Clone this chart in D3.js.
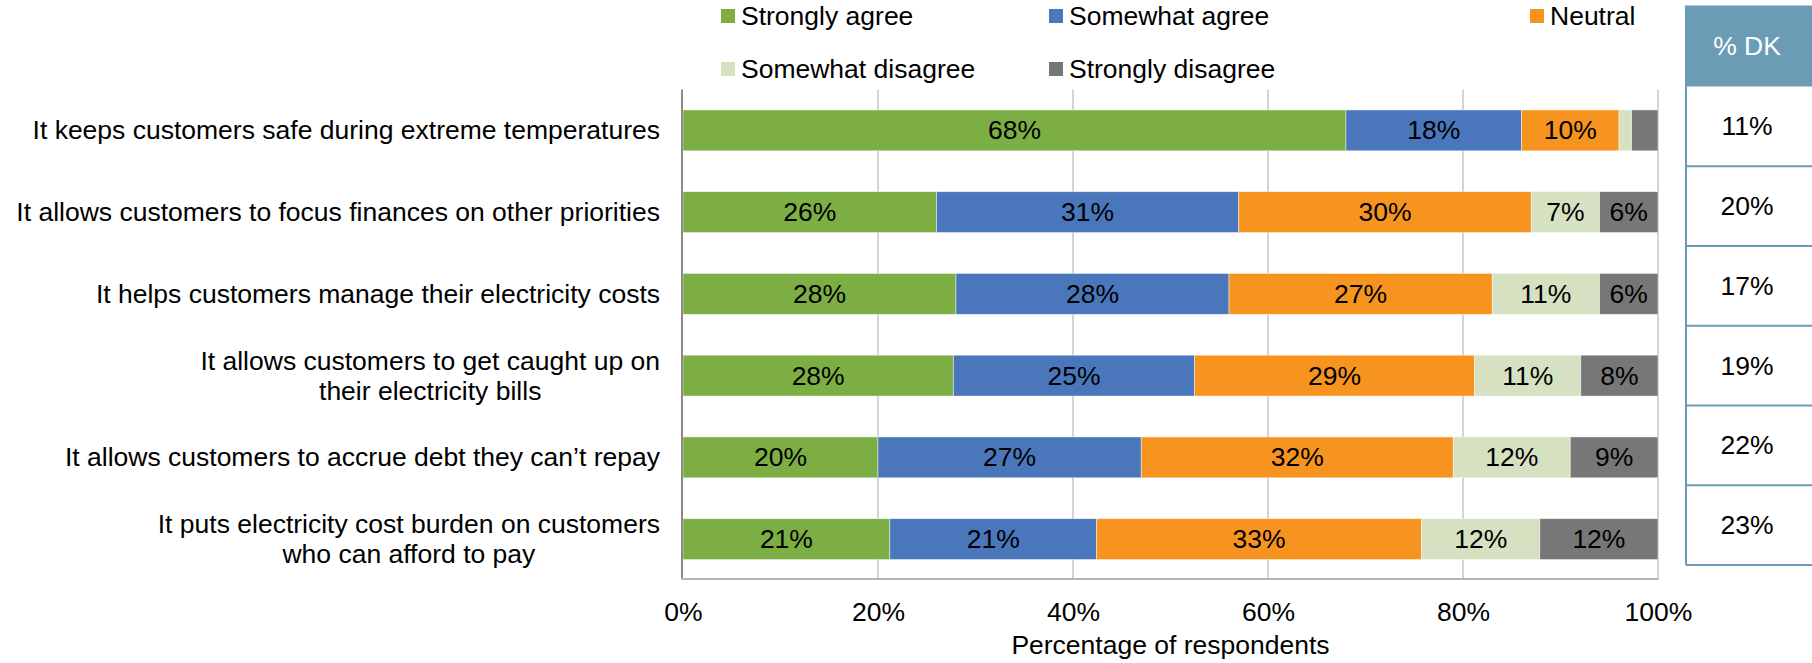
<!DOCTYPE html>
<html>
<head>
<meta charset="utf-8">
<script src="https://cdn.jsdelivr.net/npm/d3@7"></script>
<style>
  html, body { margin: 0; padding: 0; background: #fff; }
  svg { display: block; }
  text { font-family: "Liberation Sans", Arial, sans-serif; fill: #000; }
</style>
</head>
<body>
<svg id="chart" width="1812" height="663"></svg>
<script>
// Survey statements (two-line labels split on "\n")
const categories = [
  "It keeps customers safe during extreme temperatures",
  "It allows customers to focus finances on other priorities",
  "It helps customers manage their electricity costs",
  "It allows customers to get caught up on\ntheir electricity bills",
  "It allows customers to accrue debt they can\u2019t repay",
  "It puts electricity cost burden on customers\nwho can afford to pay"
];

// Response shares (%) per statement
const strongAgree    = [68, 26, 28, 28, 20, 21];
const someAgree      = [18, 31, 28, 25, 27, 21];
const neutral        = [10, 30, 27, 29, 32, 33];
const someDisagree   = [1.3, 7, 11, 11, 12, 12];
const strongDisagree = [2.7, 6, 6, 8, 9, 12];

// Share answering "don't know" per statement
const dontKnow = [11, 20, 17, 19, 22, 23];

const seriesNames = ["Strongly agree", "Somewhat agree", "Neutral", "Somewhat disagree", "Strongly disagree"];
const seriesColors = ["#7cae43", "#4a77bb", "#f7941f", "#d5e1c0", "#777777"];
const xTicks = [0, 0.2, 0.4, 0.6, 0.8, 1.0];
const tickLabels = ["0%", "20%", "40%", "60%", "80%", "100%"];
const tableHeader = "% DK";
const xTitle = "Percentage of respondents";

const FONT = 26.5;
const svg = d3.select("#chart");

const plot = { left: 683, right: 1658, top: 89.5, bottom: 580 };

// Rows for the stack layout
const keys = seriesNames;
const rows = categories.map((c, i) => ({
  cat: c,
  [keys[0]]: strongAgree[i],
  [keys[1]]: someAgree[i],
  [keys[2]]: neutral[i],
  [keys[3]]: someDisagree[i],
  [keys[4]]: strongDisagree[i]
}));

const stacked = d3.stack().keys(keys).offset(d3.stackOffsetExpand)(rows);

const x = d3.scaleLinear().domain([0, 1]).range([plot.left, plot.right]);
const y = d3.scaleBand().domain(categories).range([plot.top, plot.bottom]).paddingInner(0.5).paddingOuter(0.25);
const color = d3.scaleOrdinal().domain(keys).range(seriesColors);

// Vertical gridlines
svg.append("g")
  .selectAll("line")
  .data(xTicks.slice(1))
  .join("line")
  .attr("x1", d => x(d)).attr("x2", d => x(d))
  .attr("y1", plot.top).attr("y2", plot.bottom)
  .attr("stroke", "#c6c6c6")
  .attr("stroke-width", 1.5);

// Stacked segments
const layer = svg.append("g")
  .selectAll("g")
  .data(stacked)
  .join("g")
  .attr("fill", d => color(d.key));

layer.selectAll("rect")
  .data(d => d)
  .join("rect")
  .attr("x", d => x(d[0]))
  .attr("width", d => x(d[1]) - x(d[0]))
  .attr("y", d => y(d.data.cat))
  .attr("height", y.bandwidth())
  .attr("stroke", "#ffffff")
  .attr("stroke-opacity", 0.6)
  .attr("stroke-width", 0.75);

// Value labels inside segments
layer.selectAll("text")
  .data(d => d.map(s => ({ s, key: d.key })))
  .join("text")
  .filter(d => d.s.data[d.key] >= 5)
  .attr("x", d => (x(d.s[0]) + x(d.s[1])) / 2)
  .attr("y", d => y(d.s.data.cat) + y.bandwidth() / 2)
  .attr("text-anchor", "middle")
  .attr("dominant-baseline", "central")
  .style("font-size", FONT + "px")
  .text(d => Math.round(d.s.data[d.key]) + "%");

// Axis lines
svg.append("line")
  .attr("x1", plot.left - 1).attr("x2", plot.left - 1)
  .attr("y1", plot.top).attr("y2", plot.bottom)
  .attr("stroke", "#8a8a8a").attr("stroke-width", 2);
svg.append("line")
  .attr("x1", plot.left - 2).attr("x2", plot.right)
  .attr("y1", plot.bottom - 1).attr("y2", plot.bottom - 1)
  .attr("stroke", "#b4b4b4").attr("stroke-width", 2);

// X axis tick labels
const xAxis = d3.axisBottom(x).tickValues(xTicks).tickSize(0).tickPadding(0)
  .tickFormat((d, i) => tickLabels[i]);
const gx = svg.append("g").attr("transform", `translate(0, 612)`).call(xAxis);
gx.select(".domain").remove();
gx.selectAll("text")
  .attr("y", 0).attr("dy", null)
  .attr("dominant-baseline", "central")
  .style("font-size", FONT + "px")
  .style("font-family", '"Liberation Sans", Arial, sans-serif')
  .attr("fill", "#000");

// Axis title
svg.append("text")
  .attr("x", (plot.left + plot.right) / 2)
  .attr("y", 645)
  .attr("text-anchor", "middle")
  .attr("dominant-baseline", "central")
  .style("font-size", FONT + "px")
  .text(xTitle);

// Category labels: block right-aligned, lines centred within the block
const labelRight = 660;
const lineGap = 30;
categories.forEach(c => {
  const lines = c.split("\n");
  const g = svg.append("g");
  const texts = lines.map(l => g.append("text").style("font-size", FONT + "px").text(l));
  const widths = texts.map(t => t.node().getComputedTextLength());
  const w = d3.max(widths);
  const cy = y(c) + y.bandwidth() / 2;
  texts.forEach((t, j) => {
    t.attr("x", labelRight - w / 2)
     .attr("y", cy + (j - (lines.length - 1) / 2) * lineGap)
     .attr("text-anchor", "middle")
     .attr("dominant-baseline", "central");
  });
});

// Legend
const legendPos = [
  { x: 721, y: 16 }, { x: 1049, y: 16 }, { x: 1530, y: 16 },
  { x: 721, y: 69 }, { x: 1049, y: 69 }
];
const lg = svg.append("g")
  .selectAll("g")
  .data(keys)
  .join("g")
  .attr("transform", (d, i) => `translate(${legendPos[i].x}, ${legendPos[i].y})`);
lg.append("rect")
  .attr("x", 0).attr("y", -7)
  .attr("width", 14).attr("height", 14)
  .attr("fill", d => color(d));
lg.append("text")
  .attr("x", 20).attr("y", 0)
  .attr("dominant-baseline", "central")
  .style("font-size", FONT + "px")
  .text(d => d);

// "% DK" side table
const tbl = { left: 1686, right: 1830, top: 5.5, headBottom: 86.5, bottom: 565 };
const rowY = d3.scaleBand().domain(categories).range([tbl.headBottom, tbl.bottom]);
const tableColor = "#6b9cb5";
const tg = svg.append("g");
tg.append("rect")
  .attr("x", tbl.left).attr("y", tbl.top)
  .attr("width", tbl.right - tbl.left).attr("height", tbl.headBottom - tbl.top)
  .attr("fill", tableColor);
tg.append("text")
  .attr("x", 1747).attr("y", (tbl.top + tbl.headBottom) / 2)
  .attr("text-anchor", "middle").attr("dominant-baseline", "central")
  .style("font-size", FONT + "px")
  .style("fill", "#ffffff")
  .text(tableHeader);
tg.append("line")
  .attr("x1", tbl.left).attr("x2", tbl.left)
  .attr("y1", tbl.top).attr("y2", tbl.bottom)
  .attr("stroke", tableColor).attr("stroke-width", 2);
tg.selectAll("line.sep")
  .data(categories)
  .join("line")
  .attr("class", "sep")
  .attr("x1", tbl.left).attr("x2", tbl.right)
  .attr("y1", d => rowY(d) + rowY.bandwidth())
  .attr("y2", d => rowY(d) + rowY.bandwidth())
  .attr("stroke", tableColor).attr("stroke-width", 2);
tg.selectAll("text.val")
  .data(categories)
  .join("text")
  .attr("class", "val")
  .attr("x", 1747)
  .attr("y", d => rowY(d) + rowY.bandwidth() / 2)
  .attr("text-anchor", "middle").attr("dominant-baseline", "central")
  .style("font-size", FONT + "px")
  .text((d, i) => dontKnow[i] + "%");
</script>
</body>
</html>
